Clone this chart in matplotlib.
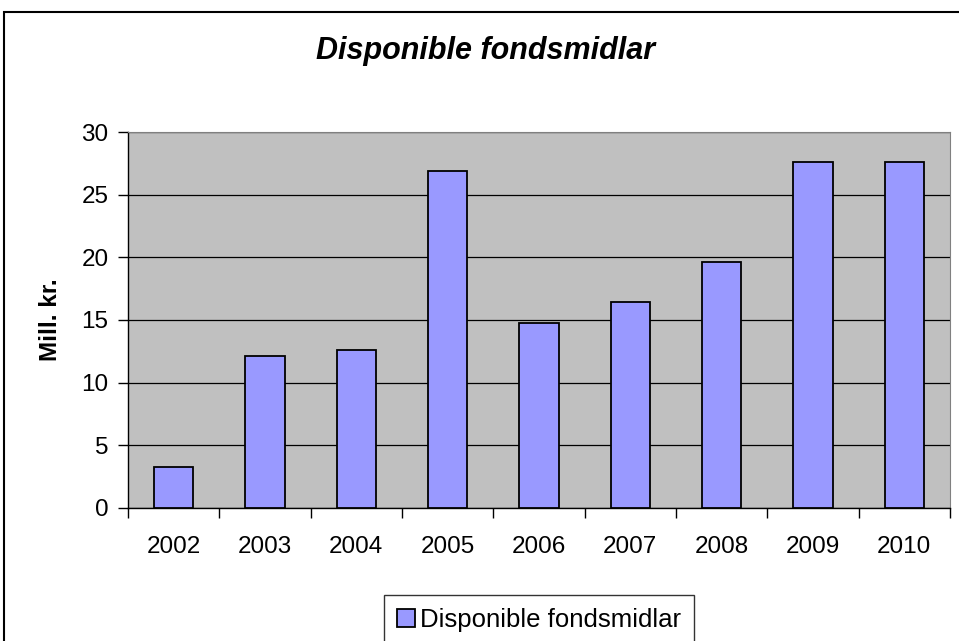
import matplotlib.pyplot as plt
from matplotlib.patches import Rectangle

years = ['2002', '2003', '2004', '2005', '2006', '2007', '2008', '2009', '2010']
values = [3.3, 12.1, 12.6, 26.9, 14.8, 16.4, 19.6, 27.6, 27.6]

plt.rcParams['font.family'] = ['Liberation Sans', 'DejaVu Sans']

fig = plt.figure(figsize=(9.59, 6.41), dpi=100)
ax = fig.add_axes([128 / 959, 133 / 641, 822 / 959, 376 / 641])
ax.set_facecolor('#C0C0C0')

# ramme rundt hele diagrammet
fig.patches.append(Rectangle((4 / 959, -0.02), 1.1, 0.02 + 1 - 12 / 641,
                             transform=fig.transFigure, fill=False,
                             edgecolor='black', linewidth=1.5))

x = range(len(years))
ax.bar(x, values, width=0.43, color='#9999FF', edgecolor='black',
       linewidth=1.3, label='Disponible fondsmidlar', zorder=3)

ax.set_xlim(-0.5, len(years) - 0.5)
ax.set_ylim(0, 30)
ax.set_yticks(range(0, 31, 5))
ax.set_xticks(list(x))
ax.set_xticklabels(years)
ax.set_xticks([i + 0.5 for i in range(-1, len(years))], minor=True)
ax.tick_params(axis='x', which='major', length=0, pad=20, labelsize=17.5)
ax.tick_params(axis='x', which='minor', length=7, width=1, direction='out')
ax.tick_params(axis='y', length=7, width=1, direction='out', pad=7, labelsize=17.5)
ax.grid(axis='y', color='black', linewidth=0.9, zorder=1)

for s in ['top', 'right']:
    ax.spines[s].set_color('#808080')
for s in ['left', 'bottom']:
    ax.spines[s].set_color('black')
    ax.spines[s].set_linewidth(1)

ax.set_ylabel('Mill. kr.', fontsize=17.5, fontweight='bold', labelpad=14)
fig.text(486 / 959, 1 - 51 / 641, 'Disponible fondsmidlar', ha='center', va='center',
         fontsize=22, fontweight='bold', fontstyle='italic')

leg = ax.legend(loc='upper center', bbox_to_anchor=(0.5, -0.232), fontsize=18.5,
                frameon=True, fancybox=False, edgecolor='black',
                handlelength=0.7, handleheight=0.7, handletextpad=0.2,
                borderpad=0.5, borderaxespad=0)
leg.get_frame().set_linewidth(1)

fig.savefig('out.png', dpi=100)
